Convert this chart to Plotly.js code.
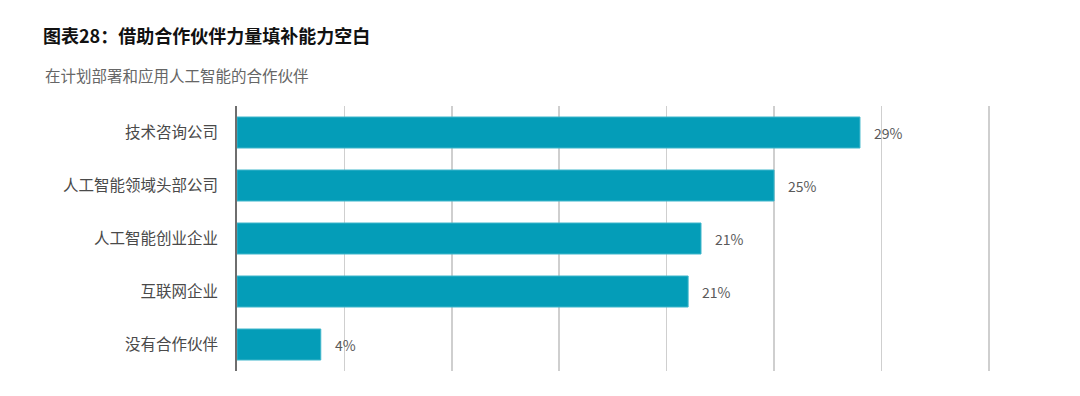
<!DOCTYPE html>
<html>
<head>
<meta charset="utf-8">
<script src="https://cdn.plot.ly/plotly-3.0.1.min.js"></script>
<style>html,body{margin:0;padding:0;background:#fff;}#chart{width:1080px;height:396px;}</style>
</head>
<body>
<div id="chart"></div>
<script>
const categories = ["技术咨询公司", "人工智能领域头部公司", "人工智能创业企业", "互联网企业", "没有合作伙伴"];
const values = [29, 25, 21.6, 21, 3.9];
const valueLabels = ["29%", "25%", "21%", "21%", "4%"];
const titleText = "图表28：借助合作伙伴力量填补能力空白";
const subtitleText = "在计划部署和应用人工智能的合作伙伴";

const FONT = '"Noto Sans CJK SC", "Noto Sans", sans-serif';

const trace = {
  type: 'bar',
  orientation: 'h',
  y: categories,
  x: values,
  marker: {color: '#049DB8', line: {color: '#3FB6CB', width: 1}},
  hoverinfo: 'none'
};

const annotations = categories.map((c, i) => ({
  x: values[i], y: c, xref: 'x', yref: 'y',
  text: valueLabels[i], showarrow: false,
  xanchor: 'left', yanchor: 'middle', xshift: 12,
  font: {family: FONT, size: 14, color: '#5a5a5a'}
}));
annotations.push({
  xref: 'paper', yref: 'paper', x: (43 - 237) / 754, y: (371 - 75) / 265,
  xanchor: 'left', yanchor: 'middle', showarrow: false,
  text: subtitleText, font: {family: FONT, size: 15.5, color: '#666666'}
});

const layout = {
  width: 1080, height: 396,
  margin: {l: 237, r: 89, t: 106, b: 25},
  paper_bgcolor: '#ffffff', plot_bgcolor: '#ffffff',
  showlegend: false,
  bargap: 0.415,
  title: {
    text: '<b>' + titleText + '</b>',
    xref: 'container', yref: 'container',
    x: 43 / 1080, xanchor: 'left',
    y: 1 - 37 / 396, yanchor: 'middle',
    font: {family: FONT, size: 18, color: '#111111'}
  },
  xaxis: {
    range: [0, 35.1], dtick: 5, tick0: 0,
    showgrid: true, gridcolor: '#cfcfcf', gridwidth: 1.5,
    showticklabels: false, zeroline: false, showline: false, fixedrange: true
  },
  yaxis: {
    autorange: 'reversed', type: 'category',
    showline: true, linecolor: '#6e6e6e', linewidth: 2,
    showgrid: false, ticks: '', ticklabelstandoff: 14,
    tickfont: {family: FONT, size: 15.5, color: '#4a4a4a'}
  },
  annotations: annotations
};

Plotly.newPlot('chart', [trace], layout, {displayModeBar: false, staticPlot: true});
</script>
</body>
</html>
